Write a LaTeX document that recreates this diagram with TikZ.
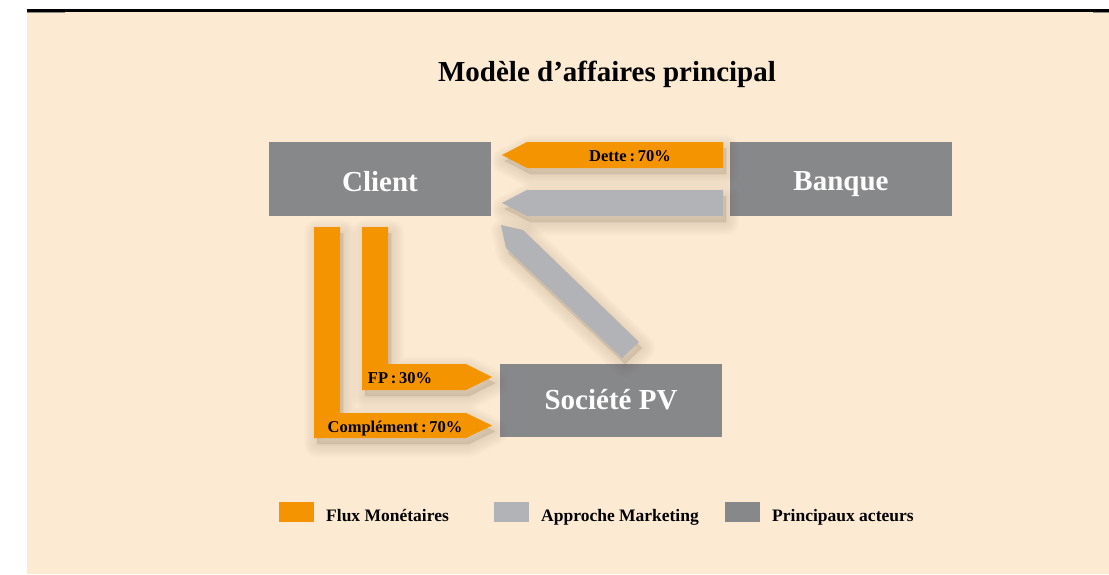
\documentclass[tikz,border=0pt]{standalone}
\usepackage{fontspec}
\setmainfont{Liberation Serif}
\definecolor{beige}{HTML}{FDEAD2}
\definecolor{flux}{HTML}{F39400}
\definecolor{marketing}{HTML}{B1B3B6}
\definecolor{acteur}{HTML}{87888A}
\definecolor{shadowc}{HTML}{5A4630}
\newcommand\softshadow[1]{%
  \foreach \w in {26,22,18,14,10,6,2}{%
    \draw[shift={(3,6)}, draw=shadowc, fill=shadowc, line width=\w pt, line join=round, opacity=0.018] #1;}%
}
\begin{document}
\begin{tikzpicture}[x=1pt,y=-1pt,
  boxnode/.style={fill=acteur, minimum width=222pt, inner sep=0pt, text=white,
    text depth=0pt, font=\fontsize{29}{34}\selectfont\bfseries},
  lbl/.style={inner sep=0pt, anchor=base, font=\fontsize{16.5}{20}\selectfont\bfseries},
  legtxt/.style={inner sep=0pt, anchor=base west, font=\fontsize{17.5}{21}\selectfont\bfseries},
  legsq/.style={minimum width=35pt, minimum height=20pt, inner sep=0pt, anchor=north west}]
\useasboundingbox (0,0) rectangle (1109,574);
% page background
\fill[white] (0,0) rectangle (1109,574);
\fill[beige] (27,12) rectangle (1109,574);
\draw[black, line width=2.6pt] (27,10.5) -- (1109,10.5);
\draw[acteur, line width=1.2pt] (27,12.6) -- (65,12.6);
\draw[acteur, line width=1.2pt] (1093,12.6) -- (1109,12.6);
% title
\node[inner sep=0pt, anchor=base, font=\fontsize{29}{34}\selectfont\bfseries] (title) at (607,81) {Modèle d’affaires principal};
% actors
\node[boxnode, minimum height=74pt, text height=24pt] (client) at (380,179) {Client};
\node[boxnode, minimum height=74pt, text height=22pt] (banque) at (841,179) {Banque};
\node[boxnode, minimum height=73pt, text height=18pt] (societe) at (611,400.5) {Société PV};
% shadows
\softshadow{(723,142) -- (527,142) -- (502,155) -- (527,168) -- (723,168) -- cycle}
\softshadow{(723,190) -- (527,190) -- (502,203) -- (527,216) -- (723,216) -- cycle}
\softshadow{(501,225) -- (523,230) -- (639,342) -- (622,358) -- (506,248) -- cycle}
\softshadow{(314,227) -- (340,227) -- (340,413) -- (466,413) -- (492,425.5) -- (466,438) -- (314,438) -- cycle}
\softshadow{(362,227) -- (388,227) -- (388,364) -- (466,364) -- (492,377) -- (466,390) -- (362,390) -- cycle}
% arrows
\fill[flux] (723,142) -- (527,142) -- (502,155) -- (527,168) -- (723,168) -- cycle;
\fill[marketing] (723,190) -- (527,190) -- (502,203) -- (527,216) -- (723,216) -- cycle;
\fill[marketing] (501,225) -- (523,230) -- (639,342) -- (622,358) -- (506,248) -- cycle;
\fill[flux] (314,227) -- (340,227) -- (340,413) -- (466,413) -- (492,425.5) -- (466,438) -- (314,438) -- cycle;
\fill[flux] (362,227) -- (388,227) -- (388,364) -- (466,364) -- (492,377) -- (466,390) -- (362,390) -- cycle;
% labels
\node[lbl] (dette) at (630,161.5) {Dette\,:\,70\%};
\node[lbl] (fp) at (400,383) {FP\,:\,30\%};
\node[lbl] (compl) at (395,432) {Complément\,:\,70\%};
% legend
\node[legsq, fill=flux] (lg1) at (279,502) {};
\node[legtxt] (lt1) at (326,521) {Flux Monétaires};
\node[legsq, fill=marketing] (lg2) at (494,502) {};
\node[legtxt] (lt2) at (541,521) {Approche Marketing};
\node[legsq, fill=acteur] (lg3) at (725,502) {};
\node[legtxt] (lt3) at (772,521) {Principaux acteurs};
\end{tikzpicture}
\end{document}
